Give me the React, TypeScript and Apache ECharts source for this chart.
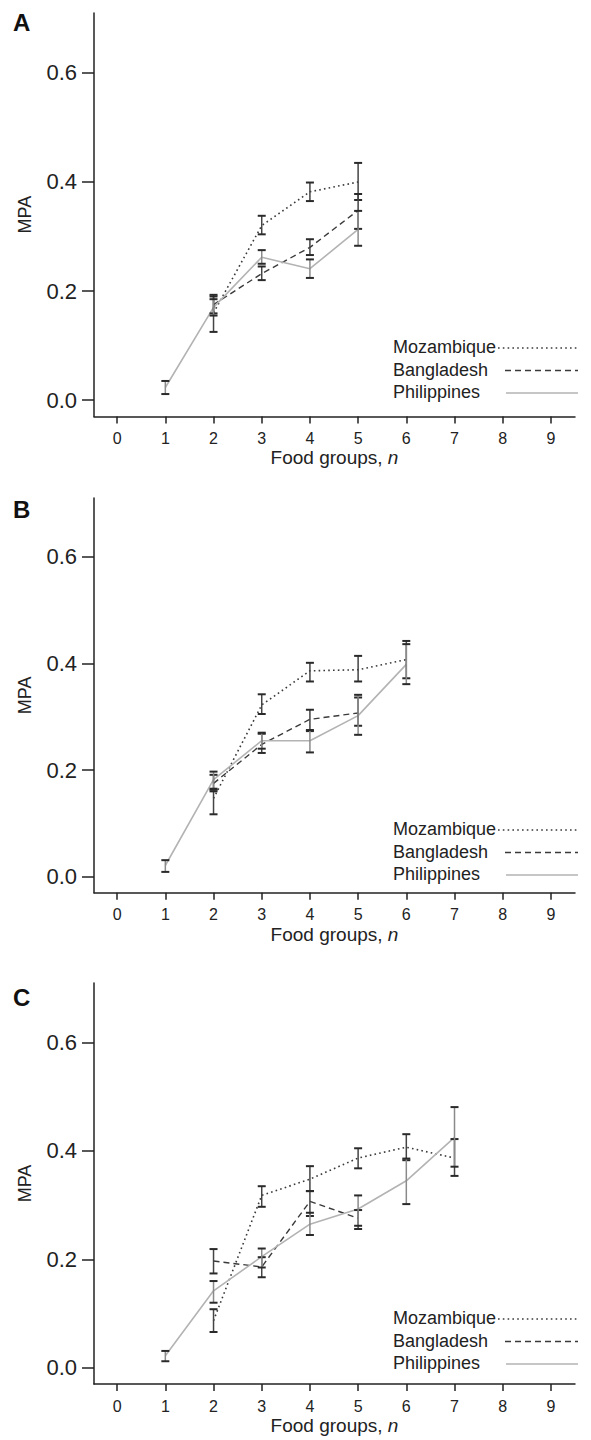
import React, { useEffect, useRef } from 'react';
import * as echarts from 'echarts';

// ---------- data ----------
const FOOD_GROUP_TICKS = [0, 1, 2, 3, 4, 5, 6, 7, 8, 9];
const MPA_TICKS = [0, 0.2, 0.4, 0.6];
const COUNTRIES = ['Mozambique', 'Bangladesh', 'Philippines'];
const PANEL_LABELS = ['A', 'B', 'C'];
const X_TITLE = 'Food groups, {i|n}';
const Y_TITLE = 'MPA';

// rows: [food groups n, mean MPA, lower, upper]
const A_MOZAMBIQUE = [[2, 0.160, 0.125, 0.193], [3, 0.320, 0.304, 0.338], [4, 0.382, 0.365, 0.399], [5, 0.400, 0.367, 0.435]];
const A_BANGLADESH = [[2, 0.175, 0.159, 0.190], [3, 0.232, 0.220, 0.245], [4, 0.280, 0.266, 0.295], [5, 0.348, 0.314, 0.378]];
const A_PHILIPPINES = [[1, 0.023, 0.011, 0.035], [2, 0.170, 0.155, 0.185], [3, 0.262, 0.250, 0.275], [4, 0.241, 0.224, 0.258], [5, 0.313, 0.283, 0.347]];

const B_MOZAMBIQUE = [[2, 0.147, 0.117, 0.163], [3, 0.322, 0.305, 0.342], [4, 0.386, 0.366, 0.401], [5, 0.388, 0.366, 0.414], [6, 0.407, 0.372, 0.442]];
const B_BANGLADESH = [[2, 0.175, 0.160, 0.191], [3, 0.248, 0.232, 0.268], [4, 0.295, 0.273, 0.313], [5, 0.307, 0.283, 0.336]];
const B_PHILIPPINES = [[1, 0.021, 0.009, 0.031], [2, 0.182, 0.165, 0.197], [3, 0.255, 0.240, 0.270], [4, 0.255, 0.233, 0.275], [5, 0.302, 0.266, 0.341], [6, 0.398, 0.361, 0.436]];

const C_MOZAMBIQUE = [[2, 0.087, 0.066, 0.108], [3, 0.318, 0.297, 0.335], [4, 0.348, 0.326, 0.372], [5, 0.387, 0.368, 0.405], [6, 0.407, 0.383, 0.431], [7, 0.387, 0.354, 0.422]];
const C_BANGLADESH = [[2, 0.197, 0.174, 0.219], [3, 0.186, 0.167, 0.204], [4, 0.307, 0.280, 0.326], [5, 0.276, 0.256, 0.291]];
const C_PHILIPPINES = [[1, 0.022, 0.012, 0.031], [2, 0.142, 0.120, 0.160], [3, 0.205, 0.185, 0.220], [4, 0.265, 0.245, 0.286], [5, 0.293, 0.262, 0.318], [6, 0.345, 0.302, 0.386], [7, 0.425, 0.371, 0.481]];

const PANEL_DATA = [
  [A_MOZAMBIQUE, A_BANGLADESH, A_PHILIPPINES],
  [B_MOZAMBIQUE, B_BANGLADESH, B_PHILIPPINES],
  [C_MOZAMBIQUE, C_BANGLADESH, C_PHILIPPINES],
];

// ---------- styles / layout ----------
const FONT = '"Liberation Sans", Arial, Helvetica, sans-serif';
const INK = '#222';
const LAYOUT = [
  { top: 13, bottom: 416.4, legendY: 347, letterY: 10 },
  { top: 498, bottom: 892.7, legendY: 829, letterY: 497 },
  { top: 983, bottom: 1384, legendY: 1318, letterY: 985 },
];
const GRID_LEFT = 94;
const GRID_RIGHT_EDGE = 575;
const LINE_STYLES = [
  { color: '#3a3a3a', width: 1.6, type: [1.6, 3.2] as any },
  { color: '#3a3a3a', width: 1.4, type: [6, 4] as any },
  { color: '#b3b3b3', width: 1.6, type: 'solid' as any },
];
const BAR_COLORS = ['#444', '#444', '#8a8a8a'];
const CAP_COLOR = '#2a2a2a';
const LEGEND_LINE_START = [498, 505, 506];
const LEGEND_LINE_END = 578;
const LEGEND_TEXT_X = 393;
const LEGEND_STEP = 22.5;

function buildOption() {
  const grid: any[] = [];
  const xAxis: any[] = [];
  const yAxis: any[] = [];
  const series: any[] = [];
  const graphic: any[] = [];

  LAYOUT.forEach((L, p) => {
    grid.push({
      left: GRID_LEFT,
      top: L.top,
      width: GRID_RIGHT_EDGE - GRID_LEFT,
      height: L.bottom - L.top,
      containLabel: false,
    });
    xAxis.push({
      type: 'value',
      gridIndex: p,
      min: -0.48,
      max: 9.5,
      splitLine: { show: false },
      axisLine: { show: true, onZero: false, lineStyle: { color: INK, width: 1.5 } },
      axisTick: { show: true, customValues: FOOD_GROUP_TICKS, length: 7, lineStyle: { color: INK, width: 1.5 } },
      axisLabel: {
        customValues: FOOD_GROUP_TICKS,
        fontSize: 16,
        color: INK,
        fontFamily: FONT,
        margin: 14,
      },
      name: X_TITLE,
      nameLocation: 'middle',
      nameGap: 32,
      nameTextStyle: {
        fontSize: 19,
        color: INK,
        fontFamily: FONT,
        rich: { i: { fontStyle: 'italic', fontSize: 19, color: INK, fontFamily: FONT } },
      },
    });
    yAxis.push({
      type: 'value',
      gridIndex: p,
      min: -0.03,
      max: 0.71,
      splitLine: { show: false },
      axisLine: { show: true, onZero: false, lineStyle: { color: INK, width: 1.5 } },
      axisTick: { show: true, customValues: MPA_TICKS, length: 12, lineStyle: { color: INK, width: 1.5 } },
      axisLabel: {
        customValues: MPA_TICKS,
        formatter: (v: number) => v.toFixed(1),
        fontSize: 22,
        color: INK,
        fontFamily: FONT,
        margin: 17,
      },
      name: Y_TITLE,
      nameLocation: 'middle',
      nameGap: 60,
      nameTextStyle: { fontSize: 18, color: INK, fontFamily: FONT },
    });

    PANEL_DATA[p].forEach((rows, c) => {
      const st = LINE_STYLES[c];
      series.push({
        type: 'line',
        name: COUNTRIES[c],
        xAxisIndex: p,
        yAxisIndex: p,
        data: rows.map((r) => [r[0], r[1]]),
        symbol: 'none',
        lineStyle: { color: st.color, width: st.width, type: st.type },
        z: 2,
      });
      const barColor = BAR_COLORS[c];
      series.push({
        type: 'custom',
        name: COUNTRIES[c] + ' CI',
        xAxisIndex: p,
        yAxisIndex: p,
        data: rows.map((r) => [r[0], r[2], r[3]]),
        encode: { x: 0, y: [1, 2] },
        z: 3,
        renderItem: (_params: any, api: any) => {
          const x = api.value(0);
          const lo = api.coord([x, api.value(1)]);
          const hi = api.coord([x, api.value(2)]);
          const w = 4;
          return {
            type: 'group',
            children: [
              { type: 'line', shape: { x1: lo[0], y1: lo[1], x2: hi[0], y2: hi[1] }, style: { stroke: barColor, lineWidth: 1.5 } },
              { type: 'line', shape: { x1: lo[0] - w, y1: lo[1], x2: lo[0] + w, y2: lo[1] }, style: { stroke: CAP_COLOR, lineWidth: 2 } },
              { type: 'line', shape: { x1: hi[0] - w, y1: hi[1], x2: hi[0] + w, y2: hi[1] }, style: { stroke: CAP_COLOR, lineWidth: 2 } },
            ],
          };
        },
      });
    });

    // panel letter
    graphic.push({
      type: 'text',
      x: 13,
      y: L.letterY,
      style: { text: PANEL_LABELS[p], font: `bold 24px ${FONT}`, fill: '#111', verticalAlign: 'top' },
    });
    // legend
    COUNTRIES.forEach((name, c) => {
      const y = L.legendY + c * LEGEND_STEP;
      const st = LINE_STYLES[c];
      graphic.push({
        type: 'text',
        x: LEGEND_TEXT_X,
        y,
        style: { text: name, font: `18px ${FONT}`, fill: INK, verticalAlign: 'middle' },
      });
      graphic.push({
        type: 'line',
        shape: { x1: LEGEND_LINE_START[c], y1: y + 1, x2: LEGEND_LINE_END, y2: y + 1 },
        style: {
          stroke: st.color,
          lineWidth: st.width,
          lineDash: Array.isArray(st.type) ? st.type : null,
        },
      });
    });
  });

  return {
    animation: false,
    backgroundColor: '#fff',
    textStyle: { fontFamily: FONT },
    grid,
    xAxis,
    yAxis,
    series,
    graphic,
  };
}

export default function App() {
  const ref = useRef<HTMLDivElement>(null);
  useEffect(() => {
    if (!ref.current) return;
    const chart = echarts.init(ref.current, null, { renderer: 'svg' });
    chart.setOption(buildOption() as any);
    return () => chart.dispose();
  }, []);
  return (
    <div
      ref={ref}
      style={{ position: 'absolute', left: 0, top: 0, width: 591, height: 1440, background: '#fff' }}
    />
  );
}
